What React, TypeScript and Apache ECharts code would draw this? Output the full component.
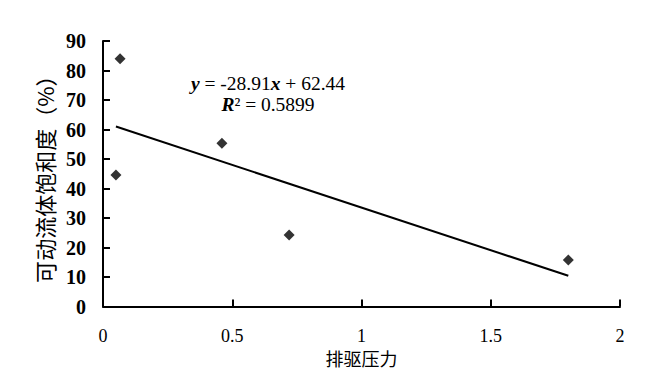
import React, { useEffect, useRef } from "react";
import * as echarts from "echarts";

const xValues = [0.066, 0.05, 0.46, 0.72, 1.8];
const yValues = [84, 44.6, 55.3, 24.2, 15.8];
const trendCoef = [-28.91, 62.44]; // slope, intercept
const xTicks = [0, 0.5, 1, 1.5, 2];
const yTicks = [0, 10, 20, 30, 40, 50, 60, 70, 80, 90];
const xTitle = "排驱压力";
const yTitle = "可动流体饱和度（%）";
const eqLine1 = "{i|y} = -28.91{i|x} + 62.44";
const eqLine2 = "{i|R}² = 0.5899";

export default function App() {
  const ref = useRef<HTMLDivElement>(null);
  useEffect(() => {
    if (!ref.current) return;
    const chart = echarts.init(ref.current, null, { renderer: "svg" });
    const pts = xValues.map((x, i) => [x, yValues[i]]);
    const xmin = Math.min(...xValues);
    const xmax = Math.max(...xValues);
    const trend = [xmin, xmax].map((x) => [x, trendCoef[0] * x + trendCoef[1]]);
    const serif = "'Liberation Serif', 'Times New Roman', serif";
    const rich = {
      i: { fontFamily: serif, fontSize: 19.5, fontStyle: "italic", fontWeight: "bold" },
    };
    chart.setOption({
      animation: false,
      backgroundColor: "#ffffff",
      grid: { left: 103, right: 25, top: 41, bottom: 75.5, containLabel: false },
      xAxis: {
        type: "value",
        min: xTicks[0],
        max: xTicks[xTicks.length - 1],
        interval: 0.5,
        name: xTitle,
        nameLocation: "middle",
        nameGap: 40,
        nameTextStyle: { fontFamily: "'Noto Sans CJK SC'", fontSize: 18, color: "#000" },
        axisLine: { show: true, onZero: false, lineStyle: { color: "#000", width: 2 } },
        axisTick: { show: true, inside: true, length: 7, lineStyle: { color: "#000", width: 2 } },
        axisLabel: { fontFamily: serif, fontSize: 18, color: "#000", margin: 20 },
        splitLine: { show: false },
      },
      yAxis: {
        type: "value",
        min: yTicks[0],
        max: yTicks[yTicks.length - 1],
        interval: 10,
        name: yTitle,
        nameLocation: "middle",
        nameGap: 46,
        nameRotate: 90,
        nameTextStyle: { fontFamily: "'Noto Sans CJK SC'", fontSize: 22, color: "#000" },
        axisLine: { show: true, lineStyle: { color: "#000", width: 2 } },
        axisTick: { show: true, inside: true, length: 7, lineStyle: { color: "#000", width: 2 } },
        axisLabel: { fontFamily: serif, fontSize: 20, fontWeight: "bold", color: "#000", margin: 17 },
        splitLine: { show: false },
      },
      graphic: [
        {
          type: "text",
          x: 268,
          y: 83,
          style: {
            text: eqLine1,
            align: "center",
            verticalAlign: "middle",
            fontFamily: serif,
            fontSize: 19.5,
            fill: "#000",
            rich,
          },
        },
        {
          type: "text",
          x: 268,
          y: 104,
          style: {
            text: eqLine2,
            align: "center",
            verticalAlign: "middle",
            fontFamily: serif,
            fontSize: 19.5,
            fill: "#000",
            rich,
          },
        },
      ],
      series: [
        {
          type: "line",
          data: trend,
          showSymbol: false,
          symbol: "none",
          lineStyle: { color: "#000", width: 2 },
          silent: true,
        },
        {
          type: "scatter",
          data: pts,
          symbol: "diamond",
          symbolSize: 11,
          itemStyle: { color: "#000" },
        },
      ],
    });
    return () => chart.dispose();
  }, []);
  return (
    <div
      ref={ref}
      style={{ position: "fixed", left: 0, top: 0, width: 645, height: 382, background: "#fff" }}
    />
  );
}
